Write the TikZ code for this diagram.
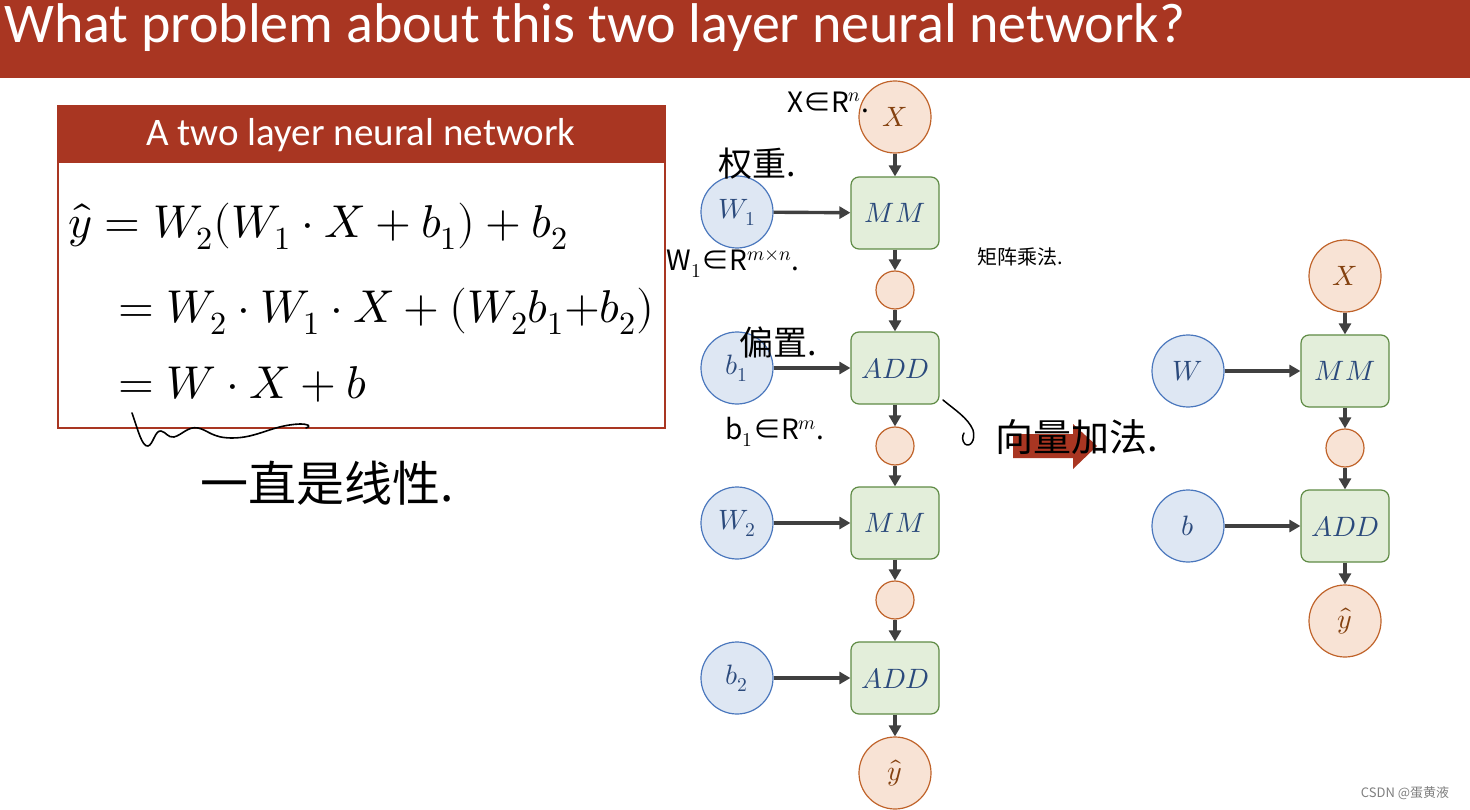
\documentclass[tikz,border=0pt]{standalone}
\usepackage{fontspec}
\usepackage{unicode-math}
\setmainfont{Carlito}
\setmathfont{Latin Modern Math}
\newfontfamily\cjk{Noto Sans CJK SC}
\usetikzlibrary{arrows.meta,calc}
\definecolor{darkred}{HTML}{A93622}
\definecolor{oF}{HTML}{F8E3D5}
\definecolor{oB}{HTML}{C0632A}
\definecolor{bF}{HTML}{DEE7F3}
\definecolor{bB}{HTML}{4A77BD}
\definecolor{gF}{HTML}{E3EEDA}
\definecolor{gB}{HTML}{5F8B45}
\definecolor{tblue}{HTML}{2B4A7C}
\definecolor{tbrown}{HTML}{84410F}
\definecolor{agray}{HTML}{404040}
\tikzset{
  ocirc/.style={circle,draw=oB,fill=oF,line width=1.2pt,minimum size=72pt,inner sep=0pt,text=tbrown,font=\fontsize{28}{30}\selectfont},
  scirc/.style={circle,draw=oB,fill=oF,line width=1.2pt,minimum size=38pt,inner sep=0pt},
  bcirc/.style={circle,draw=bB,fill=bF,line width=1.2pt,minimum size=72pt,inner sep=0pt,text=tblue,font=\fontsize{28}{30}\selectfont},
  gbox/.style={rectangle,rounded corners=8pt,draw=gB,fill=gF,line width=1.2pt,minimum width=88pt,minimum height=72pt,inner sep=0pt,text=tblue,font=\fontsize{28}{30}\selectfont},
  arr/.style={-{Triangle[length=11pt,width=12pt]},line width=3.4pt,draw=agray},
  hand/.style={text=black,font=\cjk\fontsize{#1}{#1}\selectfont,inner sep=0pt},
  eq/.style={anchor=base west,inner sep=0pt,font=\fontsize{46}{52}\selectfont},
}
\begin{document}
\begin{tikzpicture}[x=1pt,y=-1pt]
\useasboundingbox (0,0) rectangle (1470,810);
\fill[white] (0,0) rectangle (1470,810);
% title
\fill[darkred] (0,0) rectangle (1470,78);
\node[anchor=west,text=white,inner sep=0pt,font=\fontsize{56}{60}\selectfont] (title) at (4,28) {What problem about this two layer neural network?};
% formula box
\fill[darkred] (58,106) rectangle (665,163);
\draw[darkred,line width=2pt] (58,106) rectangle (665,428);
\node[text=white,font=\fontsize{39}{44}\selectfont] (hdr) at (361,135) {A two layer neural network};
\node[eq] (eq1) at (68,238) {$\hat y = W_2(W_1\cdot X+b_1)+b_2$};
\node[eq] (eq2) at (118,323) {$= W_2\cdot W_1\cdot X+(W_2b_1{+}b_2)$};
\node[eq] (eq3) at (118,398) {$= W\cdot X+b$};
% squiggle
\draw[black,line width=1.6pt,line cap=round,line join=round] (132,413) .. controls (138,430) and (142,447) .. (148,446) .. controls (153,445) and (155,430) .. (161,431) .. controls (166,432) and (168,438) .. (174,437) .. controls (182,435) and (188,426) .. (198,428) .. controls (208,430) and (212,438) .. (232,438) .. controls (258,438) and (272,425) .. (300,424) .. controls (308,424) and (312,426) .. (306,428);
\node[hand=48] (lin) at (327,483) {一直是线性.};
% left graph
\node[ocirc] (X) at (895,117) {$X$};
\node[gbox] (mm1) at (895,213) {$MM$};
\node[scirc] (s1) at (895,290) {};
\node[gbox] (add1) at (895,368) {$ADD$};
\node[scirc] (s2) at (895,446) {};
\node[gbox] (mm2) at (895,523) {$MM$};
\node[scirc] (s3) at (895,600) {};
\node[gbox] (add2) at (895,678) {$ADD$};
\node[ocirc] (yh) at (895,773) {$\hat y$};
\node[bcirc] (W1) at (737,212) {$W_1$};
\node[bcirc] (b1) at (737,368) {$b_1$};
\node[bcirc] (W2) at (737,523) {$W_2$};
\node[bcirc] (b2) at (737,678) {$b_2$};
\draw[arr] (X) -- (mm1);
\draw[arr] (mm1) -- (s1);
\draw[arr] (s1) -- (add1);
\draw[arr] (add1) -- (s2);
\draw[arr] (s2) -- (mm2);
\draw[arr] (mm2) -- (s3);
\draw[arr] (s3) -- (add2);
\draw[arr] (add2) -- (yh);
\draw[arr] (W1) -- (mm1);
\draw[arr] (b1) -- (add1);
\draw[arr] (W2) -- (mm2);
\draw[arr] (b2) -- (add2);
% right graph
\node[ocirc] (RX) at (1345,276) {$X$};
\node[gbox] (Rmm) at (1345,371) {$MM$};
\node[scirc] (Rs) at (1345,448) {};
\node[gbox] (Radd) at (1345,526) {$ADD$};
\node[ocirc] (Ry) at (1345,621) {$\hat y$};
\node[bcirc] (RW) at (1188,371) {$W$};
\node[bcirc] (Rb) at (1188,526) {$b$};
\draw[arr] (RX) -- (Rmm);
\draw[arr] (Rmm) -- (Rs);
\draw[arr] (Rs) -- (Radd);
\draw[arr] (Radd) -- (Ry);
\draw[arr] (RW) -- (Rmm);
\draw[arr] (Rb) -- (Radd);
% big arrow
\fill[darkred] (1013,434) -- (1073,434) -- (1073,424) -- (1097,446) -- (1073,469) -- (1073,458) -- (1013,458) -- cycle;
% handwritten notes
\node[hand=28] (nX) at (828,102) {X∈R$^{n}$.};
\node[hand=34] (nqz) at (757,164) {权重.};
\node[hand=28] (nW) at (733,264) {W$_1$∈R$^{m\times n}$.};
\node[hand=20] (njz) at (1020,257) {矩阵乘法.};
\node[hand=34] (npz) at (778,342) {偏置.};
\node[hand=28] (nb) at (775,432) {b$_1$∈R$^{m}$.};
\node[hand=38] (nxl) at (1077,437) {向量加法.};
\coordinate (hk) at (943,400);
\draw[black,line width=1.5pt,line cap=round] (hk) .. controls (955,410) and (968,418) .. (973,430) .. controls (976,440) and (970,448) .. (965,444) .. controls (962,441) and (962,436) .. (964,433);
% watermark
\node[text=gray,font=\cjk\fontsize{13}{15}\selectfont,inner sep=0pt] (wm) at (1405,793) {CSDN @蛋黄液};
\end{tikzpicture}
\end{document}
